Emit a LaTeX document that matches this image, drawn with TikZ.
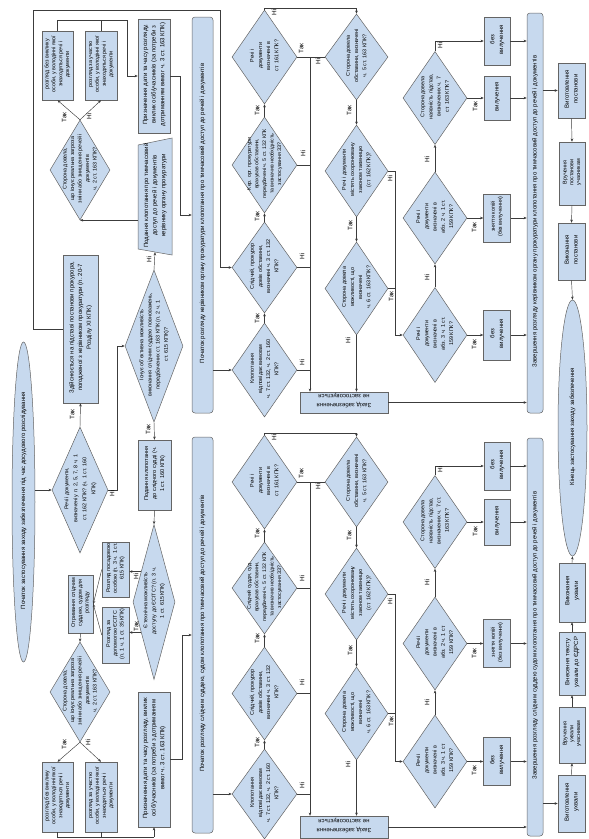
\documentclass[tikz,border=0pt]{standalone}
\usepackage{fontspec}
\setmainfont{Liberation Sans}
\usepackage{graphicx}
\usetikzlibrary{shapes.geometric, arrows.meta}

\definecolor{boxfill}{RGB}{199,217,238}
\definecolor{boxline}{RGB}{100,100,100}
\definecolor{linkc}{RGB}{60,60,60}

\newcommand{\fa}{\fontsize{6}{8.6}\selectfont}   % прямокутники, смуги
\newcommand{\fd}{\fontsize{5.4}{8.2}\selectfont} % ромби
\newcommand{\fc}{\fontsize{5.4}{6.8}\selectfont} % щільні прямокутники
\newcommand{\fy}{\fontsize{6.4}{7}\selectfont}   % Так / Ні
%% повернутий текст нульового розміру
\newcommand{\rt}[2][90]{\makebox[0pt]{\smash{\rotatebox[origin=c]{#1}{\begin{tabular}{@{}c@{}}#2\end{tabular}}}}}

\tikzset{
  wh/.style 2 args={minimum width=#1pt, minimum height=#2pt},
  base/.style={draw=boxline, fill=boxfill, line width=0.5pt, inner sep=0pt, font=\fa},
  box/.style={base, rectangle},
  bar/.style={base, rectangle, rounded corners=3pt},
  dia/.style={base, diamond, font=\fd},
  term/.style={base, ellipse},
  txt/.style={inner sep=0pt, font=\fa},
  link/.style={draw=linkc, line width=0.45pt},
  arr/.style={link, -{Stealth[length=3.2pt, width=2.6pt]}},
  yn/.style={inner sep=0pt, font=\fy},
}

\begin{document}
\begin{tikzpicture}[x=1pt, y=-1pt]
  \useasboundingbox (0,0) rectangle (589,839);

  %% початок
  \node[term, wh={23}{320}] (startE) at (23.5,502) {\rt{Початок застосування заходу забезпечення під час досудового розслідування}};
  \node[dia, wh={56}{126}, font=\fontsize{5.4}{9}\selectfont] (d162) at (80,490) {\rt{Речі і документи,\\визначені у п. 2, 5, 7, 8 ч. 1\\ст. 162 КПК? (ч. 1 ст. 160\\КПК)}};
  \node[box, wh={35}{148}] (zdiysn) at (80.5,329) {\rt{Здійснюється на підставі постанови прокурора,\\погодженої з керівником прокуратури (п. 20-7\\Розділу XI КПК)}};

  %% ліва колонка, прокурор
  \node[dia, wh={60}{100}, font=\fontsize{5.4}{7.5}\selectfont] (thr1) at (80,170) {\rt{Сторона довела,\\що існує реальна загроза\\зміни або знищення речей і\\документів\\ч. 2 ст. 163 КПК?}};
  \node[box, wh={31}{69}, font=\fc] (bez1) at (57.5,65.5) {\rt{розгляд без виклику\\особи, у володінні якої\\знаходяться речі і\\документи}};
  \node[box, wh={32}{69}, font=\fc] (uch1) at (101,65.5) {\rt{розгляд за участю\\особи, у володінні якої\\знаходяться речі і\\документи}};
  \node[box, wh={32}{114}] (pryzn1) at (154,76) {\rt{Призначення дати та часу розгляду,\\виклик осіб/учасників (за потреби з\\дотриманням вимог ч. 3 ст. 163 КПК)}};
  \filldraw[draw=boxline, fill=boxfill, line width=0.5pt] (138,145) -- (172,138) -- (172,255) -- (138,249) -- cycle;
  \node[txt, wh={34}{110}] (podP) at (155,197) {\rt{Подання клопотання про тимчасовий\\доступ до речей і документів\\керівнику органу прокуратури}};
  \node[dia, wh={58}{152}] (d615) at (154,346) {\rt{Існує об'єктивна можливість\\виконання слідчим суддею повноважень,\\передбачених ст. 163 КПК (п. 2 ч. 1\\ст. 615 КПК)?}};

  %% ліва колонка, слідчий суддя
  \node[box, wh={33}{70}, font=\fontsize{5.6}{8}\selectfont] (podS) at (154.5,475) {\rt{Подання клопотання\\до слідчого судді (ч.\\1 ст. 160 КПК)}};
  \node[dia, wh={42}{155}] (dTech) at (154,602) {\rt{Є технічна можливість\\доступу до ЄСІТС? (п. 3 ч.\\1 ст. 615 КПК)}};
  \node[box, wh={27}{55}, font=\fc] (rozgPos) at (115.5,569.5) {\rt{Розгляд посадовою\\особою (п. 3 ч. 1 ст.\\615 КПК)}};
  \node[box, wh={27}{56}, font=\fc] (rozgEs) at (115.5,635) {\rt{Розгляд за\\допомогою ЄСІТС\\(п. 1 ч. 1 ст. 35 КПК)}};
  \node[box, wh={25}{58}, font=\fc] (otrym) at (80.5,604) {\rt{Отримання слідчим\\суддею, судом для\\розгляду}};
  \node[dia, wh={60}{100}, font=\fontsize{5.4}{7.5}\selectfont] (thr2) at (80,692) {\rt{Сторона довела,\\що існує реальна загроза\\зміни або знищення речей і\\документів\\ч. 2 ст. 163 КПК?}};
  \node[box, wh={31}{70}, font=\fc] (bez2) at (57.5,797) {\rt{розгляд без виклику\\особи, у володінні якої\\знаходяться речі і\\документи}};
  \node[box, wh={32}{70}, font=\fc] (uch2) at (101,797) {\rt{розгляд за участю\\особи, у володінні якої\\знаходяться речі і\\документи}};
  \node[box, wh={32}{135}] (pryzn2) at (154,759.5) {\rt{Призначення дати та часу розгляду, виклик\\осіб/учасників (за потреби з дотриманням\\вимог ч. 3 ст. 163 КПК)}};

  %% смуги початку та завершення
  \node[bar, wh={21}{396}] (barP) at (202.5,215) {\rt{Початок розгляду керівником органу прокуратури клопотання про тимчасовий доступ до речей і документів}};
  \node[bar, wh={21}{396}] (barS) at (202.5,635) {\rt{Початок розгляду слідчим суддею, судом клопотання про тимчасовий доступ до речей і документів}};
  \node[bar, wh={16}{400}] (endP) at (535,213) {\rt{Завершення розгляду керівником органу прокуратури клопотання про тимчасовий доступ до речей і документів}};
  \node[bar, wh={16}{398}] (endS) at (535,637) {\rt{Завершення розгляду слідчим суддею судом клопотання про тимчасовий доступ до речей і документів}};

  %% середня колонка, прокурор
  \node[dia, wh={65}{94}] (klop1) at (264.5,370) {\rt{Клопотання\\відповідає вимогам\\ч. 7 ст. 132, ч. 2 ст. 160\\КПК?}};
  \node[dia, wh={65}{91}] (slid1) at (264.5,267.5) {\rt{Слідчий, прокурор\\довів обставини,\\визначені ч. 3 ст. 132\\КПК?}};
  \node[dia, wh={65}{96}, font=\fontsize{5.2}{7.6}\selectfont] (ker1) at (264.5,165) {\rt{Кер. орг. прокуратури\\врахував обставини,\\передбачені ч. 5 ст. 132 КПК\\та визначив необхідність\\застосування ЗЗ?}};
  \node[dia, wh={65}{94}] (r161a) at (264.5,57) {\rt{Речі і\\документи\\визначені в\\ст. 161 КПК?}};
  \node[dia, wh={63}{86}] (st5a) at (356.5,57) {\rt{Сторона довела\\обставини, визначені\\ч. 5 ст. 163 КПК?}};
  \node[dia, wh={63}{92}] (taem1) at (356.5,171) {\rt{Речі і документи\\містять охоронювану\\законом таємницю\\(ст. 162 КПК)?}};
  \node[dia, wh={63}{93}] (st6a) at (356.5,288.5) {\rt{Сторона довела\\можливості, що\\визначені\\ч. 6 ст. 163 КПК?}};
  \node[box, wh={88}{21}] (zakh1) at (344,402.5) {\rt[180]{Захід забезпечення\\не застосовується}};

  %% середня колонка, слідчий суддя
  \node[dia, wh={65}{90}] (klop2) at (264.5,794) {\rt{Клопотання\\відповідає вимогам\\ч. 7 ст. 132, ч. 2 ст. 160\\КПК?}};
  \node[dia, wh={65}{93}] (slid2) at (264.5,693.5) {\rt{Слідчий, прокурор\\довів обставини,\\визначені ч. 3 ст. 132\\КПК?}};
  \node[dia, wh={65}{92}, font=\fontsize{5.2}{7.6}\selectfont] (sud2) at (264.5,588) {\rt{Слідчий суддя, суд\\врахував обставини,\\передбачені ч. 5 ст. 132 КПК\\та визначив необхідність\\застосування ЗЗ?}};
  \node[dia, wh={65}{94}] (r161b) at (264.5,482) {\rt{Речі і\\документи\\визначені в\\ст. 161 КПК?}};
  \node[dia, wh={63}{90}] (st5b) at (356.5,482) {\rt{Сторона довела\\обставини, визначені\\ч. 5 ст. 163 КПК?}};
  \node[dia, wh={63}{92}] (taem2) at (356.5,594) {\rt{Речі і документи\\містять охоронювану\\законом таємницю\\(ст. 162 КПК)?}};
  \node[dia, wh={63}{93}] (st6b) at (356.5,713.5) {\rt{Сторона довела\\можливості, що\\визначені\\ч. 6 ст. 163 КПК?}};
  \node[box, wh={88}{22}] (zakh2) at (344,827) {\rt[180]{Захід забезпечення\\не застосовується}};

  %% права колонка, прокурор
  \node[dia, wh={64}{93}] (st7a) at (435,98) {\rt{Сторона довела\\наявність підстав,\\визначених ч. 7\\ст. 163 КПК?}};
  \node[dia, wh={64}{92}] (abz2a) at (435,218) {\rt{Речі і\\документи\\визначені в\\абз. 2 ч. 1 ст.\\159 КПК?}};
  \node[dia, wh={64}{95}] (abz3a) at (435,335) {\rt{Речі і\\документи\\визначені в\\абз. 3 ч. 1 ст.\\159 КПК?}};
  \node[box, wh={26}{48}] (bv1a) at (497,41) {\rt{без\\вилучення}};
  \node[box, wh={26}{44}] (vyl1) at (497,98) {\rt{вилучення}};
  \node[box, wh={27}{48}, font=\fc] (znk1) at (497,218) {\rt{зняття копій\\(без вилучення)}};
  \node[box, wh={27}{50}] (bv2a) at (497,335) {\rt{без\\вилучення}};

  %% права колонка, слідчий суддя
  \node[dia, wh={64}{93}] (st7b) at (435,522) {\rt{Сторона довела\\наявність підстав,\\визначених ч. 7 ст.\\163 КПК?}};
  \node[dia, wh={64}{93}] (abz2b) at (435,643.5) {\rt{Речі і\\документи\\визначені в\\абз. 2 ч. 1 ст.\\159 КПК?}};
  \node[dia, wh={64}{93}] (abz3b) at (435,761.5) {\rt{Речі і\\документи\\визначені в\\абз. 3 ч. 1 ст.\\159 КПК?}};
  \node[box, wh={26}{48}] (bv1b) at (497,466) {\rt{без\\вилучення}};
  \node[box, wh={26}{46}] (vyl2) at (497,522) {\rt{вилучення}};
  \node[box, wh={27}{48}, font=\fc] (znk2) at (497,643.5) {\rt{зняття копій\\(без вилучення)}};
  \node[box, wh={27}{48}] (bv2b) at (497,761.5) {\rt{без\\вилучення}};

  %% завершення
  \node[box, wh={27}{55}] (vygP) at (571.5,90.5) {\rt{Виготовлення\\постанови}};
  \node[box, wh={26}{63}, font=\fc] (vruchP) at (572,173.5) {\rt{Вручення\\постанови\\учасникам}};
  \node[box, wh={27}{57}] (vykP) at (571.5,251.5) {\rt{Виконання\\постанови}};
  \node[term, wh={29}{256}] (endE) at (572.5,428) {\rt{Кінець застосування заходу забезпечення}};
  \node[box, wh={26}{59}] (vykU) at (572,592.5) {\rt{Виконання\\ухвали}};
  \node[box, wh={26}{63}] (vnesU) at (572,663.5) {\rt{Внесення тексту\\ухвали до ЄДРСР}};
  \node[box, wh={26}{56}, font=\fc] (vruchU) at (572,735) {\rt{Вручення\\ухвали\\учасникам}};
  \node[box, wh={27}{57}] (vygU) at (571.5,803.5) {\rt{Виготовлення\\ухвали}};

  %% точки з'єднання
  \coordinate (fr) at (33,10);
  \coordinate (jL) at (220,10);
  \coordinate (jTop) at (127,20);
  \coordinate (jBot) at (154,837);
  \coordinate (jA) at (310,57);
  \coordinate (jB) at (310,482);

  %% зв'язки ліворуч
  \draw[arr] (d162.west -| startE.east) -- (d162.west);
  \draw[arr] (d162.north) -- (zdiysn.south);
  \draw[arr] (d162.east) -- ++(9,0) |- (d615.west);
  \draw[arr] (zdiysn.west) -| (fr) -- (jL) |- (slid1.west);
  \draw[arr] (thr1.north) -- (bez1.south);
  \draw[arr] (thr1.north) -- (uch1.south);
  \draw[link] (bez1.north) |- (jTop);
  \draw[link] (uch1.north) -- (uch1.north |- jTop);
  \draw[arr] (jTop) |- (pryzn1.west);
  \draw[arr] (pryzn1.east) -- ++(10,0) |- (barP.west);
  \draw[arr] (podP.west |- thr1.south) -- (thr1.south);
  \draw[arr] (d615.north) -- (podP.south);
  \draw[arr] (d615.south) -- (podS.north);
  \draw[arr] (podS.south) -- (dTech.north);
  \draw[arr] (dTech.113) -- (dTech.113 -| rozgPos.east);
  \draw[arr] (dTech.247) -- (dTech.247 -| rozgEs.east);
  \draw[arr] (rozgPos.west) -- (otrym.east);
  \draw[arr] (rozgEs.west) -- (otrym.east);
  \draw[arr] (otrym.south) -- (thr2.north);
  \draw[arr] (thr2.south) -- (bez2.north);
  \draw[arr] (thr2.south) -- (uch2.north);
  \draw[link] (bez2.south) |- (jBot);
  \draw[link] (uch2.south) -- (uch2.south |- jBot);
  \draw[arr] (jBot) -- (pryzn2.south);
  \draw[arr] (pryzn2.east) -- ++(12,0) |- (barS.west);

  %% зв'язки посередині, прокурор
  \draw[arr] (barP.east |- klop1.west) -- (klop1.west);
  \draw[arr] (klop1.north) -- (slid1.south);
  \draw[arr] (slid1.north) -- (ker1.south);
  \draw[arr] (ker1.north) -- (r161a.south);
  \draw[link] (r161a.east) -- (st5a.west);
  \draw[link] (klop1.east) -- (klop1.east -| jA);
  \draw[link] (slid1.east) -- (slid1.east -| jA);
  \draw[link] (ker1.east) -- (ker1.east -| jA);
  \draw[arr] (jA) -- (jA |- zakh1.north);
  \draw[arr] (r161a.north) -- ++(0,-2) -| (st5a.north);
  \draw[arr] (st5a.south) -- (taem1.north);
  \draw[arr] (taem1.south) -- (st6a.north);
  \draw[arr] (st6a.south) -- (st6a.south |- zakh1.north);
  \draw[arr] (taem1.east) -- ++(7,0) |- (abz3a.west);
  \draw[link] (st6a.east) -- ++(7,0);
  \draw[arr] (zakh1.east) -- (zakh1.east -| endP.west);

  %% зв'язки посередині, слідчий суддя
  \draw[arr] (barS.east |- klop2.west) -- (klop2.west);
  \draw[arr] (klop2.north) -- (slid2.south);
  \draw[arr] (slid2.north) -- (sud2.south);
  \draw[arr] (sud2.north) -- (r161b.south);
  \draw[link] (r161b.east) -- (st5b.west);
  \draw[link] (klop2.east) -- (klop2.east -| jB);
  \draw[link] (slid2.east) -- (slid2.east -| jB);
  \draw[link] (sud2.east) -- (sud2.east -| jB);
  \draw[arr] (jB) -- (jB |- zakh2.north);
  \draw[arr] (r161b.north) -- ++(0,-2) -| (st5b.north);
  \draw[arr] (st5b.south) -- (taem2.north);
  \draw[arr] (taem2.south) -- (st6b.north);
  \draw[arr] (st6b.south) -- (st6b.south |- zakh2.north);
  \draw[arr] (taem2.east) -- ++(7,0) |- (abz3b.west);
  \draw[link] (st6b.east) -- ++(7,0);
  \draw[arr] (zakh2.east) -- (zakh2.east -| endS.west);

  %% зв'язки праворуч, прокурор
  \draw[arr] (st7a.north) |- (bv1a.west);
  \draw[arr] (st7a.east) -- (vyl1.west);
  \draw[arr] (abz2a.north) -- (st7a.south);
  \draw[arr] (abz2a.east) -- (znk1.west);
  \draw[arr] (abz3a.north) -- (abz2a.south);
  \draw[arr] (abz3a.east) -- (bv2a.west);
  \draw[arr] (bv1a.east) -- (bv1a.east -| endP.west);
  \draw[arr] (vyl1.east) -- (vyl1.east -| endP.west);
  \draw[arr] (znk1.east) -- (znk1.east -| endP.west);
  \draw[arr] (bv2a.east) -- (bv2a.east -| endP.west);
  \draw[arr] (endP.east |- vygP.west) -- (vygP.west);
  \draw[arr] (vygP.south) -- (vruchP.north);
  \draw[arr] (vruchP.south) -- (vykP.north);
  \draw[arr] (vykP.south) -- (endE.north);

  %% зв'язки праворуч, слідчий суддя
  \draw[arr] (st7b.north) |- (bv1b.west);
  \draw[arr] (st7b.east) -- (vyl2.west);
  \draw[arr] (abz2b.north) -- (st7b.south);
  \draw[arr] (abz2b.east) -- (znk2.west);
  \draw[arr] (abz3b.north) -- (abz2b.south);
  \draw[arr] (abz3b.east) -- (bv2b.west);
  \draw[arr] (bv1b.east) -- (bv1b.east -| endS.west);
  \draw[arr] (vyl2.east) -- (vyl2.east -| endS.west);
  \draw[arr] (znk2.east) -- (znk2.east -| endS.west);
  \draw[arr] (bv2b.east) -- (bv2b.east -| endS.west);
  \draw[arr] (endS.east |- vygU.west) -- (vygU.west);
  \draw[arr] (vygU.north) -- (vruchU.south);
  \draw[arr] (vruchU.north) -- (vnesU.south);
  \draw[arr] (vnesU.north) -- (vykU.south);
  \draw[arr] (vykU.north) -- (endE.south);

  %% Так / Ні ліворуч
  \node[yn] (y01) at (65,119) {\rt{Так}};
  \node[yn] (n01) at (90,118) {\rt{Ні}};
  \node[yn] (y02) at (73,416) {\rt{Так}};
  \node[yn] (n02) at (113,495) {\rt{Ні}};
  \node[yn] (n03) at (150,261) {\rt{Ні}};
  \node[yn] (y03) at (149,431) {\rt{Так}};
  \node[yn] (n04) at (137,578) {\rt{Ні}};
  \node[yn] (y04) at (137,628) {\rt{Так}};
  \node[yn] (y05) at (65,746) {\rt{Так}};
  \node[yn] (n05) at (89,744) {\rt{Ні}};

  %% Так / Ні посередині
  \node[yn] (y06) at (258,320) {\rt{Так}};
  \node[yn] (n06) at (303,364) {\rt{Ні}};
  \node[yn] (y07) at (258,218) {\rt{Так}};
  \node[yn] (n07) at (303,258) {\rt{Ні}};
  \node[yn] (y08) at (258,112) {\rt{Так}};
  \node[yn] (n08) at (304,155) {\rt{Ні}};
  \node[yn] (y09) at (302,50) {\rt{Так}};
  \node[yn] (n09) at (275,14) {\rt{Ні}};
  \node[yn] (n10) at (319,63) {\rt{Ні}};
  \node[yn] (y10) at (350,112) {\rt{Так}};
  \node[yn] (n11) at (391,180) {\rt{Ні}};
  \node[yn] (y11) at (351,227) {\rt{Так}};
  \node[yn] (y12) at (392,298) {\rt{Так}};
  \node[yn] (n12) at (349,342) {\rt{Ні}};

  \node[yn] (y13) at (258,744) {\rt{Так}};
  \node[yn] (n13) at (303,787) {\rt{Ні}};
  \node[yn] (y14) at (258,640) {\rt{Так}};
  \node[yn] (n14) at (303,684) {\rt{Ні}};
  \node[yn] (y15) at (258,535) {\rt{Так}};
  \node[yn] (n15) at (303,580) {\rt{Ні}};
  \node[yn] (y16) at (302,475) {\rt{Так}};
  \node[yn] (n16) at (275,439) {\rt{Ні}};
  \node[yn] (n17) at (319,488) {\rt{Ні}};
  \node[yn] (y17) at (350,537) {\rt{Так}};
  \node[yn] (n18) at (391,603) {\rt{Ні}};
  \node[yn] (y18) at (351,652) {\rt{Так}};
  \node[yn] (y19) at (392,723) {\rt{Так}};
  \node[yn] (n19) at (349,766) {\rt{Ні}};

  %% Так / Ні праворуч
  \node[yn] (n20) at (441,47) {\rt{Ні}};
  \node[yn] (y20) at (476,108) {\rt{Так}};
  \node[yn] (n21) at (428,161) {\rt{Ні}};
  \node[yn] (y21) at (475,229) {\rt{Так}};
  \node[yn] (n22) at (428,279) {\rt{Ні}};
  \node[yn] (y22) at (475,346) {\rt{Так}};

  \node[yn] (n23) at (441,471) {\rt{Ні}};
  \node[yn] (y23) at (476,533) {\rt{Так}};
  \node[yn] (n24) at (428,584) {\rt{Ні}};
  \node[yn] (y24) at (475,655) {\rt{Так}};
  \node[yn] (n25) at (428,704) {\rt{Ні}};
  \node[yn] (y25) at (475,772) {\rt{Так}};
\end{tikzpicture}
\end{document}
